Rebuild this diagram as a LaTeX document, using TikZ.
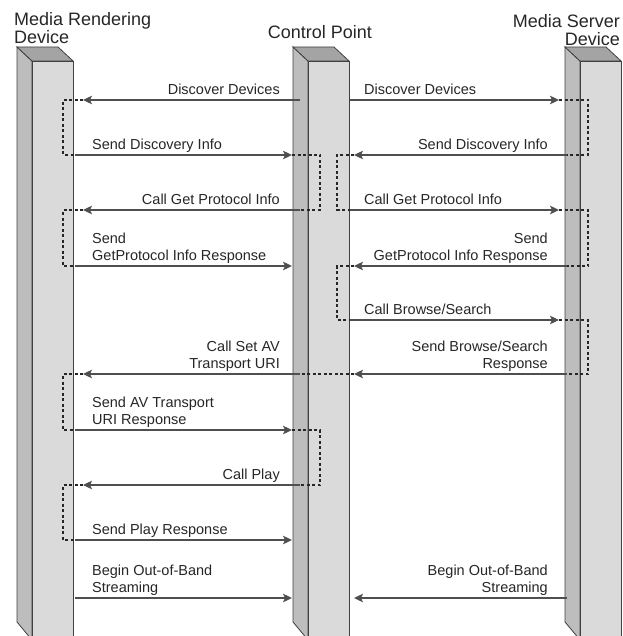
\documentclass[tikz,border=0pt]{standalone}
\usepackage{fontspec}
\setmainfont{Liberation Sans}
\usepackage{xcolor}
\usepackage{tikz}
\usetikzlibrary{arrows.meta}
\definecolor{topgray}{HTML}{A4A4A4}
\definecolor{sidegray}{HTML}{BDBDBD}
\definecolor{frontgray}{HTML}{DADADA}
\definecolor{arrowgray}{HTML}{4F4F4F}
\newcommand{\titlefont}{\fontsize{18}{18}\selectfont}
\newcommand{\lblfont}{\fontsize{14.5}{17}\selectfont}

\begin{document}
\begin{tikzpicture}[x=1pt,y=-1pt,
msg/.style={draw=arrowgray,line width=2.6pt,-{Stealth[length=9pt,width=8.5pt,inset=2pt]},shorten >=8pt},
hop/.style={draw=black!85,line width=1.3pt,dash pattern=on 3pt off 2.5pt},
lbl/.style={font=\lblfont,text=black!85,inner sep=0pt,execute at end node=\strut},
lblL/.style={lbl,align=left,anchor=south west},
lblR/.style={lbl,align=right,anchor=south east},
head/.style={font=\titlefont,text=black!85,inner sep=0pt},
wall/.style={draw=black!75,line width=0.8pt}]
\useasboundingbox (0,0) rectangle (622,636);
\clip (0,0) rectangle (622,636);
\foreach \px in {17,293,565}{
\filldraw[wall,fill=sidegray](\px,47)--(\px+15,61)--(\px+15,640)--(\px,622)--cycle;
\filldraw[wall,fill=topgray](\px,47)--(\px+41,47)--(\px+56,61)--(\px+15,61)--cycle;
\filldraw[wall,fill=frontgray](\px+15,61)rectangle(\px+56,640);
}
\node[head,align=left,anchor=north west](rend)at(14,12.5){Media Rendering\\Device};
\node[head,anchor=base](ctrl)at(320,38.5){Control Point};
\node[head,align=right,anchor=north east](serv)at(620,14.5){Media Server\\Device};
\foreach \i/\y in {1/100,2/155,3/210,4/266,5/320,6/374,7/430,8/485,9/540,10/598}{
\coordinate(a\i)at(75,\y);
\coordinate(b\i)at(300,\y);
\coordinate(c\i)at(350,\y);
\coordinate(d\i)at(567,\y);
}
\coordinate(hl)at(63,0);
\coordinate(hm)at(320,0);
\coordinate(hn)at(337,0);
\coordinate(hr)at(588,0);
\coordinate(ta)at(92,0);
\coordinate(tb)at(280,0);
\coordinate(tc)at(364,0);
\coordinate(td)at(548,0);
\draw[hop]([xshift=8pt]a1)--(a1-|hl)|-(a2);
\draw[hop]([xshift=8pt]a3)--(a3-|hl)|-(a4);
\draw[hop]([xshift=8pt]a6)--(a6-|hl)|-(a7);
\draw[hop]([xshift=8pt]a8)--(a8-|hl)|-(a9);
\draw[hop]([xshift=-8pt]b2)--(b2-|hm)|-(b3);
\draw[hop]([xshift=-8pt]b7)--(b7-|hm)|-(b8);
\draw[hop]([xshift=4pt]c2)--(c2-|hn)|-(c3);
\draw[hop]([xshift=4pt]c4)--(c4-|hn)|-(c5);
\draw[hop]([xshift=-8pt]d1)--(d1-|hr)|-(d2);
\draw[hop]([xshift=-8pt]d3)--(d3-|hr)|-(d4);
\draw[hop]([xshift=-8pt]d5)--(d5-|hr)|-(d6);
\draw[hop]([xshift=4pt]c6)--(b6);
\draw[msg](b1)--(a1);
\draw[msg](c1)--(d1);
\draw[msg](a2)--(b2);
\draw[msg,shorten >=4pt](d2)--(c2);
\draw[msg](b3)--(a3);
\draw[msg](c3)--(d3);
\draw[msg](a4)--(b4);
\draw[msg,shorten >=4pt](d4)--(c4);
\draw[msg](c5)--(d5);
\draw[msg,shorten >=4pt](d6)--(c6);
\draw[msg](b6)--(a6);
\draw[msg](a7)--(b7);
\draw[msg](b8)--(a8);
\draw[msg](a9)--(b9);
\draw[msg](a10)--(b10);
\draw[msg,shorten >=4pt](d10)--(c10);
\node[lblR](discl)at(b1-|tb){Discover Devices};
\node[lblL](discr)at(c1-|tc){Discover Devices};
\node[lblL](infol)at(a2-|ta){Send Discovery Info};
\node[lblR](infor)at(d2-|td){Send Discovery Info};
\node[lblR](protl)at(b3-|tb){Call Get Protocol Info};
\node[lblL](protr)at(c3-|tc){Call Get Protocol Info};
\node[lblL](respl)at(a4-|ta){Send\\GetProtocol Info Response};
\node[lblR](respr)at(d4-|td){Send\\GetProtocol Info Response};
\node[lblL](brow)at(c5-|tc){Call Browse/Search};
\node[lblR](browr)at(d6-|td){Send Browse/Search\\Response};
\node[lblR](seturi)at(b6-|tb){Call Set AV\\Transport URI};
\node[lblL](urir)at(a7-|ta){Send AV Transport\\URI Response};
\node[lblR](play)at(b8-|tb){Call Play};
\node[lblL](playr)at(a9-|ta){Send Play Response};
\node[lblL](streaml)at(a10-|ta){Begin Out-of-Band\\Streaming};
\node[lblR](streamr)at(d10-|td){Begin Out-of-Band\\Streaming};
\end{tikzpicture}
\end{document}
